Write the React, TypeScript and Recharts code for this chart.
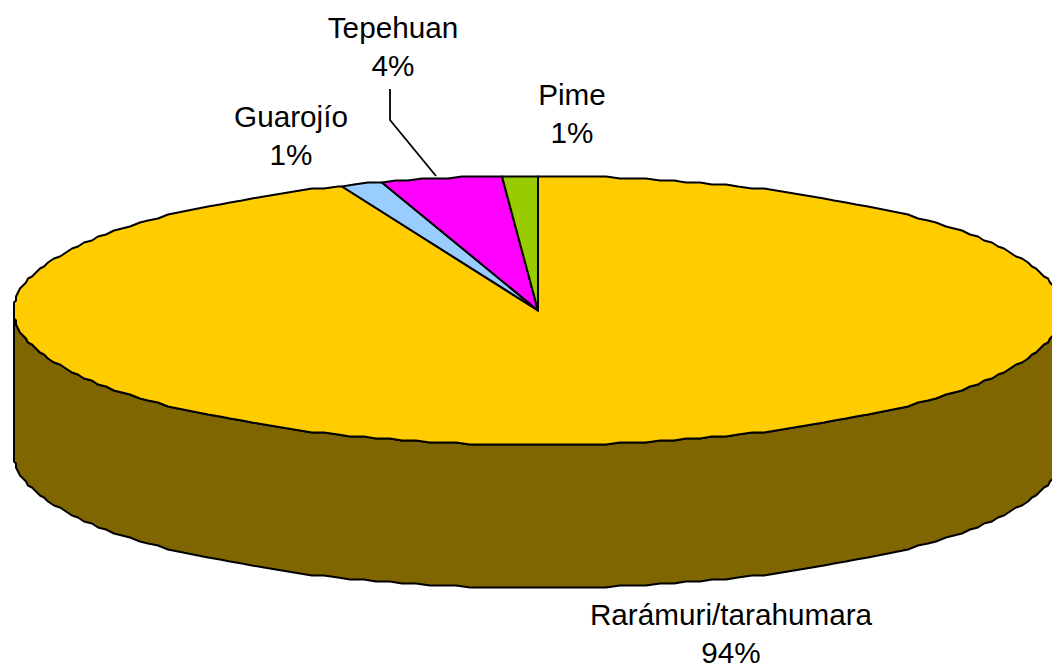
import { Pie, PieChart } from 'recharts'

// ── Data ─────────────────────────────────────────────────────────────
// Slices run clockwise from 12 o'clock. Shares.

const GROUPS = ['Rarámuri/tarahumara', 'Guarojío', 'Tepehuan', 'Pime']
const SHARES = [93.9, 1.3, 3.7, 1.1]
const COLORS = ['#ffcc00', '#99ccff', '#ff00ff', '#99cc00']

const chartData = GROUPS.map((name, i) => ({ name, value: SHARES[i], fill: COLORS[i] }))

// ── Layout ───────────────────────────────────────────────────────────

const WIDTH = 1052
const HEIGHT = 667
const CX = 538
const CY = 310.5
const RADIUS = 524
const SQUASH = 134.5 / 524 // tilt of the disc
const DEPTH = 143 // height of the side wall
const GRID = 2 // the original outline is slightly stepped
const STEP = 1.5

// Label baselines, same order as GROUPS
const LABEL_POS = [
  { x: 731, y: 625 },
  { x: 291, y: 127 },
  { x: 393, y: 38 },
  { x: 572, y: 105 },
]
const LINE_HEIGHT = 38

// ── Elliptical slice shape ───────────────────────────────────────────

function rimPoint(cx: number, cy: number, r: number, deg: number, drop = 0) {
  const rad = (deg * Math.PI) / 180
  const dx = r * Math.cos(rad)
  const dy = r * SQUASH * Math.sin(rad)
  return {
    x: cx + Math.round(dx / GRID) * GRID,
    y: cy - Math.round(dy / GRID) * GRID + drop,
  }
}

// Angles from high to low, clockwise
function rimAngles(from: number, to: number) {
  const out: number[] = []
  for (let a = from; a > to; a -= STEP) out.push(a)
  out.push(to)
  return out
}

function darken(hex: string) {
  const n = parseInt(hex.slice(1), 16)
  const half = (v: number) => Math.round(v / 2)
  return `rgb(${half((n >> 16) & 255)},${half((n >> 8) & 255)},${half(n & 255)})`
}

function EllipseSlice(props: any) {
  const { cx, cy, outerRadius, startAngle, endAngle, fill } = props
  const hi = Math.max(startAngle, endAngle)
  const lo = Math.min(startAngle, endAngle)

  const top = rimAngles(hi, lo).map((a) => rimPoint(cx, cy, outerRadius, a))
  const topPath = `M${cx},${cy} ` + top.map((p) => `L${p.x},${p.y}`).join(' ') + ' Z'

  // Only the part of the rim facing the viewer gets a wall (-180° to 0°)
  const wallHi = Math.min(hi, 0)
  const wallLo = Math.max(lo, -180)
  let wallPath = ''
  if (wallHi > wallLo) {
    const angles = rimAngles(wallHi, wallLo)
    const upper = angles.map((a) => rimPoint(cx, cy, outerRadius, a))
    const lower = angles.map((a) => rimPoint(cx, cy, outerRadius, a, DEPTH)).reverse()
    wallPath = 'M' + [...upper, ...lower].map((p) => `${p.x},${p.y}`).join(' L') + ' Z'
  }

  return (
    <g>
      {wallPath && <path d={wallPath} fill={darken(fill)} stroke="#000" strokeWidth={2} strokeLinejoin="round" />}
      <path d={topPath} fill={fill} stroke="#000" strokeWidth={2} strokeLinejoin="round" />
    </g>
  )
}

// ── Labels ───────────────────────────────────────────────────────────

function SliceLabel({ index, name, percent }: any) {
  const pos = LABEL_POS[index]
  return (
    <g>
      <text x={pos.x} y={pos.y} textAnchor="middle" fontFamily="'Liberation Sans', Arial, sans-serif" fontSize={29.7} fill="#000">
        {name}
      </text>
      <text x={pos.x} y={pos.y + LINE_HEIGHT} textAnchor="middle" fontFamily="'Liberation Sans', Arial, sans-serif" fontSize={29.7} fill="#000">
        {Math.round(percent * 100)}%
      </text>
      {name === 'Tepehuan' && (
        <polyline points="390,89 390,120 436,176" fill="none" stroke="#000" strokeWidth={1.8} />
      )}
    </g>
  )
}

// ── Component ────────────────────────────────────────────────────────

export default function App() {
  return (
    <div style={{ position: 'absolute', left: 0, top: 0, width: WIDTH, height: HEIGHT, background: '#fff', overflow: 'hidden' }}>
      <PieChart width={WIDTH} height={HEIGHT} margin={{ top: 0, right: 0, bottom: 0, left: 0 }}>
        <Pie
          data={chartData}
          dataKey="value"
          nameKey="name"
          cx={CX}
          cy={CY}
          innerRadius={0}
          outerRadius={RADIUS}
          startAngle={90}
          endAngle={-270}
          shape={EllipseSlice}
          label={SliceLabel}
          labelLine={false}
          isAnimationActive={false}
        />
      </PieChart>
    </div>
  )
}
